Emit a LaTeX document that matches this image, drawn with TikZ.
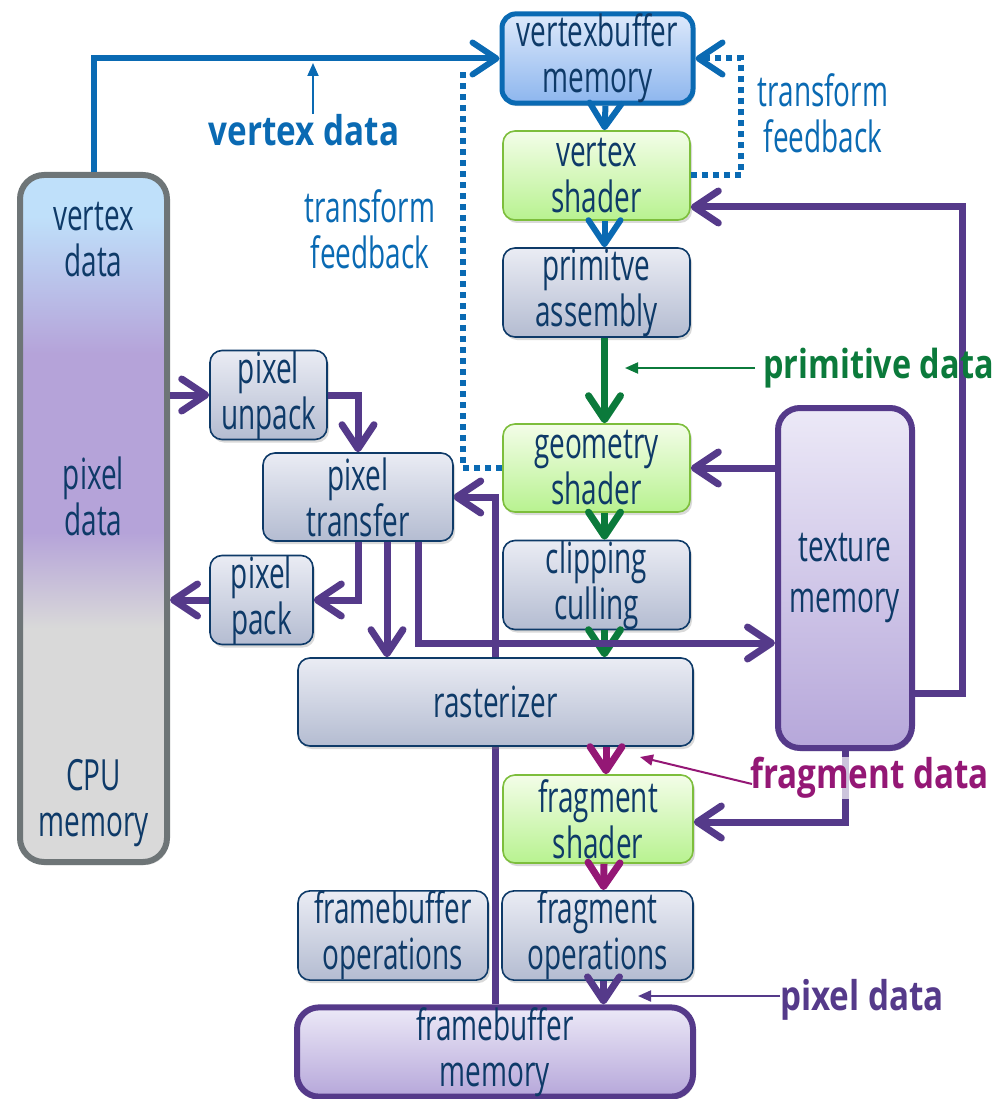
\documentclass[tikz,border=0pt]{standalone}
\usepackage{fontspec}
\setmainfont{Open Sans}[FakeStretch=0.65]
\newfontfamily\lblfont{Open Sans}[FakeStretch=0.81]
\usetikzlibrary{arrows.meta,shadows,calc}
\definecolor{navy}{HTML}{0E3A68}
\definecolor{gtop}{HTML}{EAECF4}
\definecolor{gbot}{HTML}{B4BCD1}
\definecolor{grborder}{HTML}{7DBE3C}
\definecolor{grtop}{HTML}{F3FDE8}
\definecolor{grbot}{HTML}{B8F290}
\definecolor{blu}{HTML}{0A6AB3}
\definecolor{btop}{HTML}{DDE9FB}
\definecolor{bbot}{HTML}{8DB6EE}
\definecolor{purp}{HTML}{553A8A}
\definecolor{ptop}{HTML}{ECE9F7}
\definecolor{pbot}{HTML}{B6A7DA}
\definecolor{grn}{HTML}{0B7A3B}
\definecolor{mag}{HTML}{941775}
\definecolor{cpuborder}{HTML}{6E7577}
\definecolor{cpugray}{HTML}{D9D9D9}
\definecolor{cpupurple}{HTML}{B5A3D9}
\definecolor{cpublue}{HTML}{BFE0FA}
\pgfdeclareverticalshading{cpushade}{100bp}{color(0bp)=(cpugray); color(42bp)=(cpugray); color(49bp)=(cpupurple); color(62bp)=(cpupurple); color(72bp)=(cpublue); color(100bp)=(cpublue)}
\tikzset{chev/.tip={Straight Barb[length=24pt,width=32pt,round]},
  small/.tip={Triangle[length=13pt,width=11pt]}}
\begin{document}
\begin{tikzpicture}[x=1pt,y=-1pt,
  every node/.style={font=\fontsize{43}{46}\selectfont, text=navy, align=center, inner sep=0pt},
  shad/.style={drop shadow={shadow xshift=2pt,shadow yshift=-3pt,opacity=0.3,fill=black!50}},
  gbox/.style={shad, draw=navy, line width=1.6pt, rounded corners=12pt, top color=gtop, bottom color=gbot},
  grbox/.style={shad, draw=grborder, line width=1.6pt, rounded corners=12pt, top color=grtop, bottom color=grbot},
  pbox/.style={shad, draw=purp, line width=6pt, rounded corners=22pt, top color=ptop, bottom color=pbot},
  bbox/.style={shad, draw=blu, line width=5pt, rounded corners=14pt, top color=btop, bottom color=bbot},
  cpubox/.style={shad, draw=cpuborder, line width=6pt, rounded corners=24pt, shading=cpushade},
  pline/.style={draw=purp, line width=7pt, -chev},
  bline/.style={draw=blu, line width=6pt, -chev},
  dline/.style={draw=blu, line width=6pt, dash pattern=on 6pt off 5pt, -chev},
  gline/.style={draw=grn, line width=7pt, -chev},
  mline/.style={draw=mag, line width=7pt, -chev},
  lbl/.style={font=\lblfont\bfseries\fontsize{41}{46}\selectfont},
  tlbl/.style={text=blu},
  thin/.style={line width=2pt, -small}
]
\useasboundingbox (0,0) rectangle (1001,1099);

% framebuffer memory -> pixel transfer (behind boxes)
\node[pbox, minimum width=396pt, minimum height=88pt] (fbm) at (495,1052) {framebuffer\\memory};
\node[minimum width=190pt, minimum height=88pt] (ptx) at (358,497) {};
\draw[pline] (fbm.north) |- (ptx.east);

% boxes
\node[cpubox, minimum width=147pt, minimum height=687pt] (cpu) at (93.5,518.5) {};
\node (cpu1) at (93.5,240) {vertex\\data};
\node (cpu2) at (93.5,496) {pixel\\data};
\node (cpu3) at (93.5,803) {CPU\\memory};

\node[bbox, minimum width=191pt, minimum height=89pt] (vbm) at (597.5,58.5) {vertexbuffer\\memory};
\node[grbox, minimum width=187pt, minimum height=89pt] (vs) at (596.5,175.5) {vertex\\shader};
\node[gbox, minimum width=187pt, minimum height=89pt] (pa) at (596.5,292.5) {primitve\\assembly};
\node[grbox, minimum width=187pt, minimum height=88pt] (gs) at (596.5,468) {geometry\\shader};
\node[gbox, minimum width=187pt, minimum height=88pt] (cc) at (596.5,585) {clipping\\culling};
\node[gbox, minimum width=395pt, minimum height=88pt] (ras) at (495.5,702) {rasterizer};
\node[grbox, minimum width=190pt, minimum height=88pt] (fs) at (598,819) {fragment\\shader};
\node[gbox, minimum width=191pt, minimum height=89pt] (fo) at (597.5,935.5) {fragment\\operations};
\node[gbox, minimum width=190pt, minimum height=89pt] (fbo) at (393,935.5) {framebuffer\\operations};
\node[pbox, minimum width=134pt, minimum height=340pt, font=\fontsize{43}{51}\selectfont] (tm) at (845,578) {texture\\memory};
\node[gbox, minimum width=117pt, minimum height=88pt] (pu) at (268.5,395) {pixel\\unpack};
\node[gbox, minimum width=190pt, minimum height=88pt] (pt) at (358,497) {pixel\\transfer};
\node[gbox, minimum width=103pt, minimum height=88pt] (pp) at (261.5,600) {pixel\\pack};

% blue connectors
\draw[bline] (cpu.north) |- (vbm.west);
\draw[bline] ([xshift=8pt]vbm.south) -- ([xshift=8pt]vs.north);
\draw[bline] ([xshift=8pt]vs.south) -- ([xshift=8pt]pa.north);
\draw[dline] (vs.east) -- ++(50,0) |- (vbm.east);
\coordinate (lf) at (463,68);
\draw[dline, -] (gs.west) -| (lf);

% green connectors
\draw[gline] ([xshift=8pt]pa.south) -- ([xshift=8pt]gs.north);
\draw[gline] ([xshift=8pt]gs.south) -- ([xshift=8pt]cc.north);
\draw[gline] ([xshift=8pt]cc.south) -- ([xshift=8pt]ras.north -| cc.south);

% magenta connectors
\coordinate (r1) at ([xshift=8pt]fs.north |- ras.south);
\draw[mline] (r1) -- ([xshift=8pt]fs.north);
\draw[mline] ([xshift=6pt]fs.south) -- ([xshift=6pt]fo.north);

% purple connectors
\draw[pline] ([xshift=6pt]fo.south) -- ([xshift=6pt]fbm.north -| fo.south);
\draw[pline] (cpu.east |- pu.west) -- (pu.west);
\draw[pline] (pu.east) -| (pt.north);
\draw[pline] (pt.south) |- (pp.east);
\draw[pline] (pp.west) -- (cpu.east |- pp.west);
\draw[pline] ([xshift=29pt]pt.south) -- ([xshift=29pt]pt.south |- ras.north);
\draw[pline] ([xshift=60pt]pt.south) |- ([yshift=-65pt]tm.west);
\draw[pline] (gs.east -| tm.west) -- (gs.east);
\coordinate (rx) at (962,207);
\draw[pline] ([yshift=-115pt]tm.east) -| (rx) -- (vs.east |- rx);
\draw[pline] (tm.south) |- ([yshift=-3pt]fs.east);

% labels
\node[tlbl] (tf1) at (370,229.5) {transform\\feedback};
\node[tlbl] (tf2) at (823,113) {transform\\feedback};

\node[lbl, text=blu] (lvd) at (304,130) {vertex data};
\coordinate (vdt) at (313,63);
\draw[thin, blu] (lvd.north -| vdt) -- (vdt);

\node[lbl, text=grn, anchor=west, font=\lblfont\bfseries\fontsize{40}{46}\selectfont] (lpd) at (763,368) {primitive data};
\coordinate (pdt) at (625,368);
\draw[thin, grn] ([xshift=-8pt]lpd.west) -- (pdt);

\node[lbl, text=mag, anchor=west, fill=white, fill opacity=0.7, text opacity=1] (lfd) at (750,778) {fragment data};
\coordinate (fdt) at (640,757);
\draw[thin, mag] ([xshift=2pt,yshift=-6pt]lfd.west) -- (fdt);

\node[lbl, text=purp, anchor=west] (lxd) at (780,1000) {pixel data};
\coordinate (xdt) at (638,996);
\draw[thin, purp] ([yshift=4pt]lxd.west) -- (xdt);
\end{tikzpicture}
\end{document}
